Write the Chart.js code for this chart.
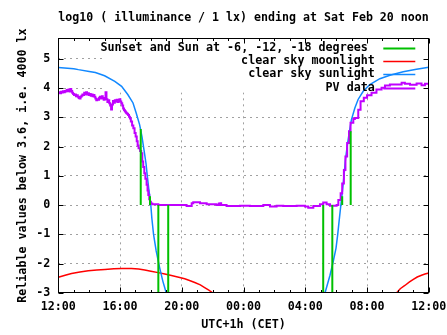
<!DOCTYPE html>
<html><head><meta charset="utf-8">
<script src="https://cdn.jsdelivr.net/npm/chart.js@4.4.1/dist/chart.umd.min.js"></script>
<style>html,body{margin:0;padding:0;background:#fff;overflow:hidden}canvas{display:block}</style>
</head><body>
<canvas id="c" width="447" height="335"></canvas>
<script>
// ---- data (hours after Fri 12:00 CET) ----
const xTickLabels = ['12:00','16:00','20:00','00:00','04:00','08:00','12:00'];
const titleText = 'log10 ( illuminance / 1 lx) ending at Sat Feb 20 noon';
const yTitle = 'Reliable values below 3.6, i.e. 4000 lx';
const xTitle = 'UTC+1h (CET)';
const legendLabels = ['Sunset and Sun at -6, -12, -18 degrees','clear sky moonlight','clear sky sunlight','PV data'];

const twilightHours  = [5.34, 5.94, 6.48, 7.12, 17.16, 17.75, 18.39, 18.94];
const twilightValues = [2.60, 0.30, -3.5, -3.5, -3.5, -3.5, 0.30, 2.52];

const moonHours  = [0,0.5,0.86,1.4,1.94,2.5,3.02,3.6,4.1,4.74,5.2,5.6,6.0,6.47,6.9,7.33,7.8,8.19,8.5,8.84,9.2,9.48,9.75,10.0,10.2, 12,
                    21.75,21.92,22.15,22.45,22.75,23.0,23.25,23.53,23.75,24];
const moonValues = [-2.47,-2.39,-2.34,-2.29,-2.25,-2.22,-2.2,-2.18,-2.17,-2.17,-2.19,-2.22,-2.26,-2.31,-2.36,-2.41,-2.47,-2.52,-2.58,-2.65,-2.73,-2.82,-2.91,-3.0,-3.07, null,
                    -3.1,-3.0,-2.86,-2.75,-2.63,-2.54,-2.46,-2.4,-2.36,-2.32];

const sunHours  = [0,1.0,1.3,2.0,2.4,3.0,3.66,4.1,4.5,4.84,5.05,5.27,5.42,5.55,5.68,5.77,5.87,5.94,6.0,6.06,6.17,6.34,6.56,6.77,6.99,7.1, 12,
                   17.2,17.28,17.6,17.81,17.99,18.1,18.19,18.29,18.39,18.5,18.6,18.71,18.84,18.99,19.21,19.42,19.75,20.18,20.83,21.48,22.34,23.2,24];
const sunValues = [4.70,4.66,4.63,4.57,4.53,4.42,4.23,4.06,3.78,3.49,3.14,2.74,2.34,1.89,1.43,0.97,0.51,0.25,-0.05,-0.45,-1.0,-1.57,-2.13,-2.6,-3.0,-3.2, null,
                   -3.2,-3.0,-2.4,-1.93,-1.47,-1.0,-0.55,-0.06,0.4,0.97,1.55,2.0,2.46,2.92,3.32,3.61,3.89,4.12,4.32,4.44,4.56,4.64,4.71];

const pvHours = [0.00,0.06,0.12,0.18,0.24,0.30,0.36,0.42,0.48,0.54,0.60,0.66,0.72,0.78,0.84,0.90,0.96,1.02,1.08,1.14,1.20,1.26,1.32,1.38,1.44,1.50,1.56,1.62,1.68,1.74,1.80,1.86,1.92,1.98,2.04,2.10,2.16,2.22,2.28,2.34,2.40,2.46,2.52,2.58,2.64,2.70,2.76,2.82,2.88,2.94,3.00,3.06,3.12,3.18,3.24,3.30,3.36,3.42,3.48,3.54,3.60,3.66,3.72,3.78,3.84,3.90,3.96,4.02,4.08,4.14,4.20,4.26,4.32,4.38,4.44,4.52,4.58,4.64,4.70,4.78,4.86,4.94,5.01,5.08,5.14,5.20,5.30,5.37,5.44,5.50,5.57,5.64,5.72,5.78,5.83,5.89,5.94,6.00,6.09,
  6.48,8.31,8.64,8.74,9.18,9.61,10.25,10.40,10.45,10.50,10.55,10.90,11.77,12.41,13.28,13.71,14.14,14.57,15.44,15.98,16.19,16.52,16.95,17.16,17.38,17.60,18.03,18.14,18.29,18.39,18.50,18.60,18.71,18.83,18.93,19.11,19.21,19.43,19.58,19.79,20.00,20.29,20.61,20.94,21.16,21.48,21.91,22.24,22.45,22.78,23.21,23.53,23.75,24.00];
const pvValues = [3.84,3.86,3.82,3.87,3.85,3.89,3.86,3.90,3.88,3.93,3.90,3.95,3.88,3.97,3.90,3.84,3.80,3.76,3.78,3.72,3.75,3.70,3.66,3.64,3.70,3.74,3.78,3.76,3.84,3.79,3.86,3.78,3.82,3.76,3.80,3.74,3.78,3.72,3.76,3.70,3.64,3.58,3.62,3.60,3.67,3.70,3.64,3.72,3.66,3.60,3.66,3.86,3.62,3.52,3.58,3.48,3.40,3.27,3.44,3.56,3.50,3.58,3.54,3.60,3.52,3.56,3.62,3.54,3.48,3.40,3.30,3.24,3.20,3.16,3.12,3.08,3.02,2.96,2.86,2.72,2.63,2.46,2.34,2.18,2.04,1.94,1.85,1.77,1.49,1.30,1.09,0.90,0.69,0.50,0.34,0.20,0.11,0.05,0.03,
  0.00,-0.03,0.06,0.10,0.06,0.03,0.00,0.05,0.00,0.06,0.00,-0.03,-0.02,-0.03,0.00,-0.05,-0.02,-0.03,-0.02,-0.05,-0.09,-0.03,0.03,0.09,0.03,-0.02,0.00,0.17,0.40,0.74,1.20,1.66,2.12,2.52,2.81,2.94,2.98,3.26,3.55,3.67,3.75,3.84,3.95,4.01,4.09,4.12,4.12,4.18,4.15,4.11,4.16,4.10,4.15,4.15];

// ---- build datasets from arrays ----
const pts = (hs, vs) => hs.map((h, i) => ({x: h, y: vs[i]}));
const twilightPts = [];
twilightHours.forEach((h, i) => { twilightPts.push({x: h, y: 0}, {x: h, y: twilightValues[i]}, {x: h, y: null}); });

const FONT = 'DejaVu Sans Mono';
const fontSpec = {family: FONT, size: 11.7, weight: 'bold', lineHeight: 1.2};

const bgPlugin = {
  id: 'bg',
  beforeDraw(c) { const ctx = c.ctx; ctx.save(); ctx.fillStyle = '#fff'; ctx.fillRect(0, 0, c.width, c.height); ctx.restore(); }
};
const keyBoxPlugin = {
  id: 'keybox',
  beforeDatasetsDraw(c) {
    const a = c.chartArea, ctx = c.ctx;
    ctx.save(); ctx.fillStyle = '#fff';
    ctx.fillRect(103, a.top + 1, a.right - 103 - 1, 91.5 - a.top);
    ctx.restore();
  }
};
const framePlugin = {
  id: 'frame',
  afterDatasetsDraw(c) {
    const a = c.chartArea, ctx = c.ctx, xs = c.scales.x, ys = c.scales.y;
    const L = Math.round(a.left) + 0.5, R = Math.round(a.right) - 0.5, T = Math.round(a.top) + 0.5, B = Math.round(a.bottom) - 0.5;
    ctx.save();
    ctx.strokeStyle = '#000'; ctx.lineWidth = 1;
    ctx.beginPath();
    for (let h = 0; h <= 24; h++) {
      const len = (h % 4 === 0) ? 5 : 2.5;
      const px = Math.round(xs.getPixelForValue(h)) + 0.5;
      ctx.moveTo(px, B); ctx.lineTo(px, B - len);
      ctx.moveTo(px, T); ctx.lineTo(px, T + len);
    }
    for (let v = -3; v <= 5; v++) {
      const py = Math.round(ys.getPixelForValue(v)) + 0.5;
      ctx.moveTo(L, py); ctx.lineTo(L + 5, py);
      ctx.moveTo(R, py); ctx.lineTo(R - 5, py);
    }
    ctx.stroke();
    ctx.strokeRect(L, T, R - L, B - T);
    ctx.restore();
  }
};
const keyPlugin = {
  id: 'key',
  afterDraw(c) {
    const a = c.chartArea, ctx = c.ctx;
    const colors = ['#00c000', '#ff0000', '#1188ff', '#c000ff'];
    const widths = [2, 1.5, 1.5, 2];
    const rows = [48.3, 61.3, 74.3, 87.5];
    ctx.save();
    ctx.font = 'bold 11.7px "' + FONT + '"';
    ctx.textAlign = 'right'; ctx.textBaseline = 'middle'; ctx.fillStyle = '#000';
    legendLabels.forEach((t, i) => {
      const xr = a.right - 54 - (i === 0 ? 7 : 0);
      ctx.fillText(t, xr, rows[i]);
      ctx.strokeStyle = colors[i]; ctx.lineWidth = widths[i];
      ctx.beginPath(); ctx.moveTo(a.right - 45.5, Math.round(rows[i]) + 0.5); ctx.lineTo(a.right - 13.5, Math.round(rows[i]) + 0.5); ctx.stroke();
    });
    ctx.restore();
  }
};

new Chart(document.getElementById('c'), {
  type: 'line',
  data: {
    datasets: [
      {label: legendLabels[0], data: twilightPts, borderColor: '#00c000', borderWidth: 2, pointRadius: 0, spanGaps: false, order: 0},
      {label: legendLabels[3], data: pts(pvHours, pvValues), borderColor: '#c000ff', borderWidth: 2, pointRadius: 0, stepped: true, order: 1},
      {label: legendLabels[2], data: pts(sunHours, sunValues), borderColor: '#1188ff', borderWidth: 1.5, pointRadius: 0, spanGaps: false, order: 2},
      {label: legendLabels[1], data: pts(moonHours, moonValues), borderColor: '#ff0000', borderWidth: 1.5, pointRadius: 0, spanGaps: false, order: 3}
    ]
  },
  options: {
    responsive: false, animation: false, devicePixelRatio: 1,
    layout: {padding: {left: 0, right: 18.2, top: 0, bottom: 0}},
    elements: {line: {tension: 0}},
    plugins: {
      legend: {display: false}, tooltip: {enabled: false},
      title: {display: true, text: titleText, color: '#000', font: fontSpec, fullSize: false, padding: {top: 11, bottom: 13.3}}
    },
    scales: {
      x: {
        type: 'linear', min: 0, max: 24,
        afterFit(s) { s.height = 42.2; s.paddingLeft = 0; s.paddingRight = 0; },
        ticks: {stepSize: 4, autoSkip: false, maxRotation: 0, padding: 7, color: '#000', font: fontSpec,
                callback: v => xTickLabels[Math.round(v / 4)]},
        grid: {color: '#a0a0a0', lineWidth: 1, drawTicks: false},
        border: {display: false, dash: [2, 4]},
        title: {display: true, text: xTitle, color: '#000', font: fontSpec, padding: {top: 0, bottom: 3}}
      },
      y: {
        type: 'linear', min: -3, max: 5.7,
        afterFit(s) { s.width = 58.3; s.paddingTop = 0; s.paddingBottom = 0; },
        ticks: {stepSize: 1, includeBounds: false, padding: 8, color: '#000', font: fontSpec},
        grid: {color: '#a0a0a0', lineWidth: 1, drawTicks: false},
        border: {display: false, dash: [2, 4]},
        title: {display: true, text: yTitle, color: '#000', font: fontSpec, padding: {top: 16.3, bottom: 0}}
      }
    }
  },
  plugins: [bgPlugin, keyBoxPlugin, framePlugin, keyPlugin]
});
</script>
</body></html>
